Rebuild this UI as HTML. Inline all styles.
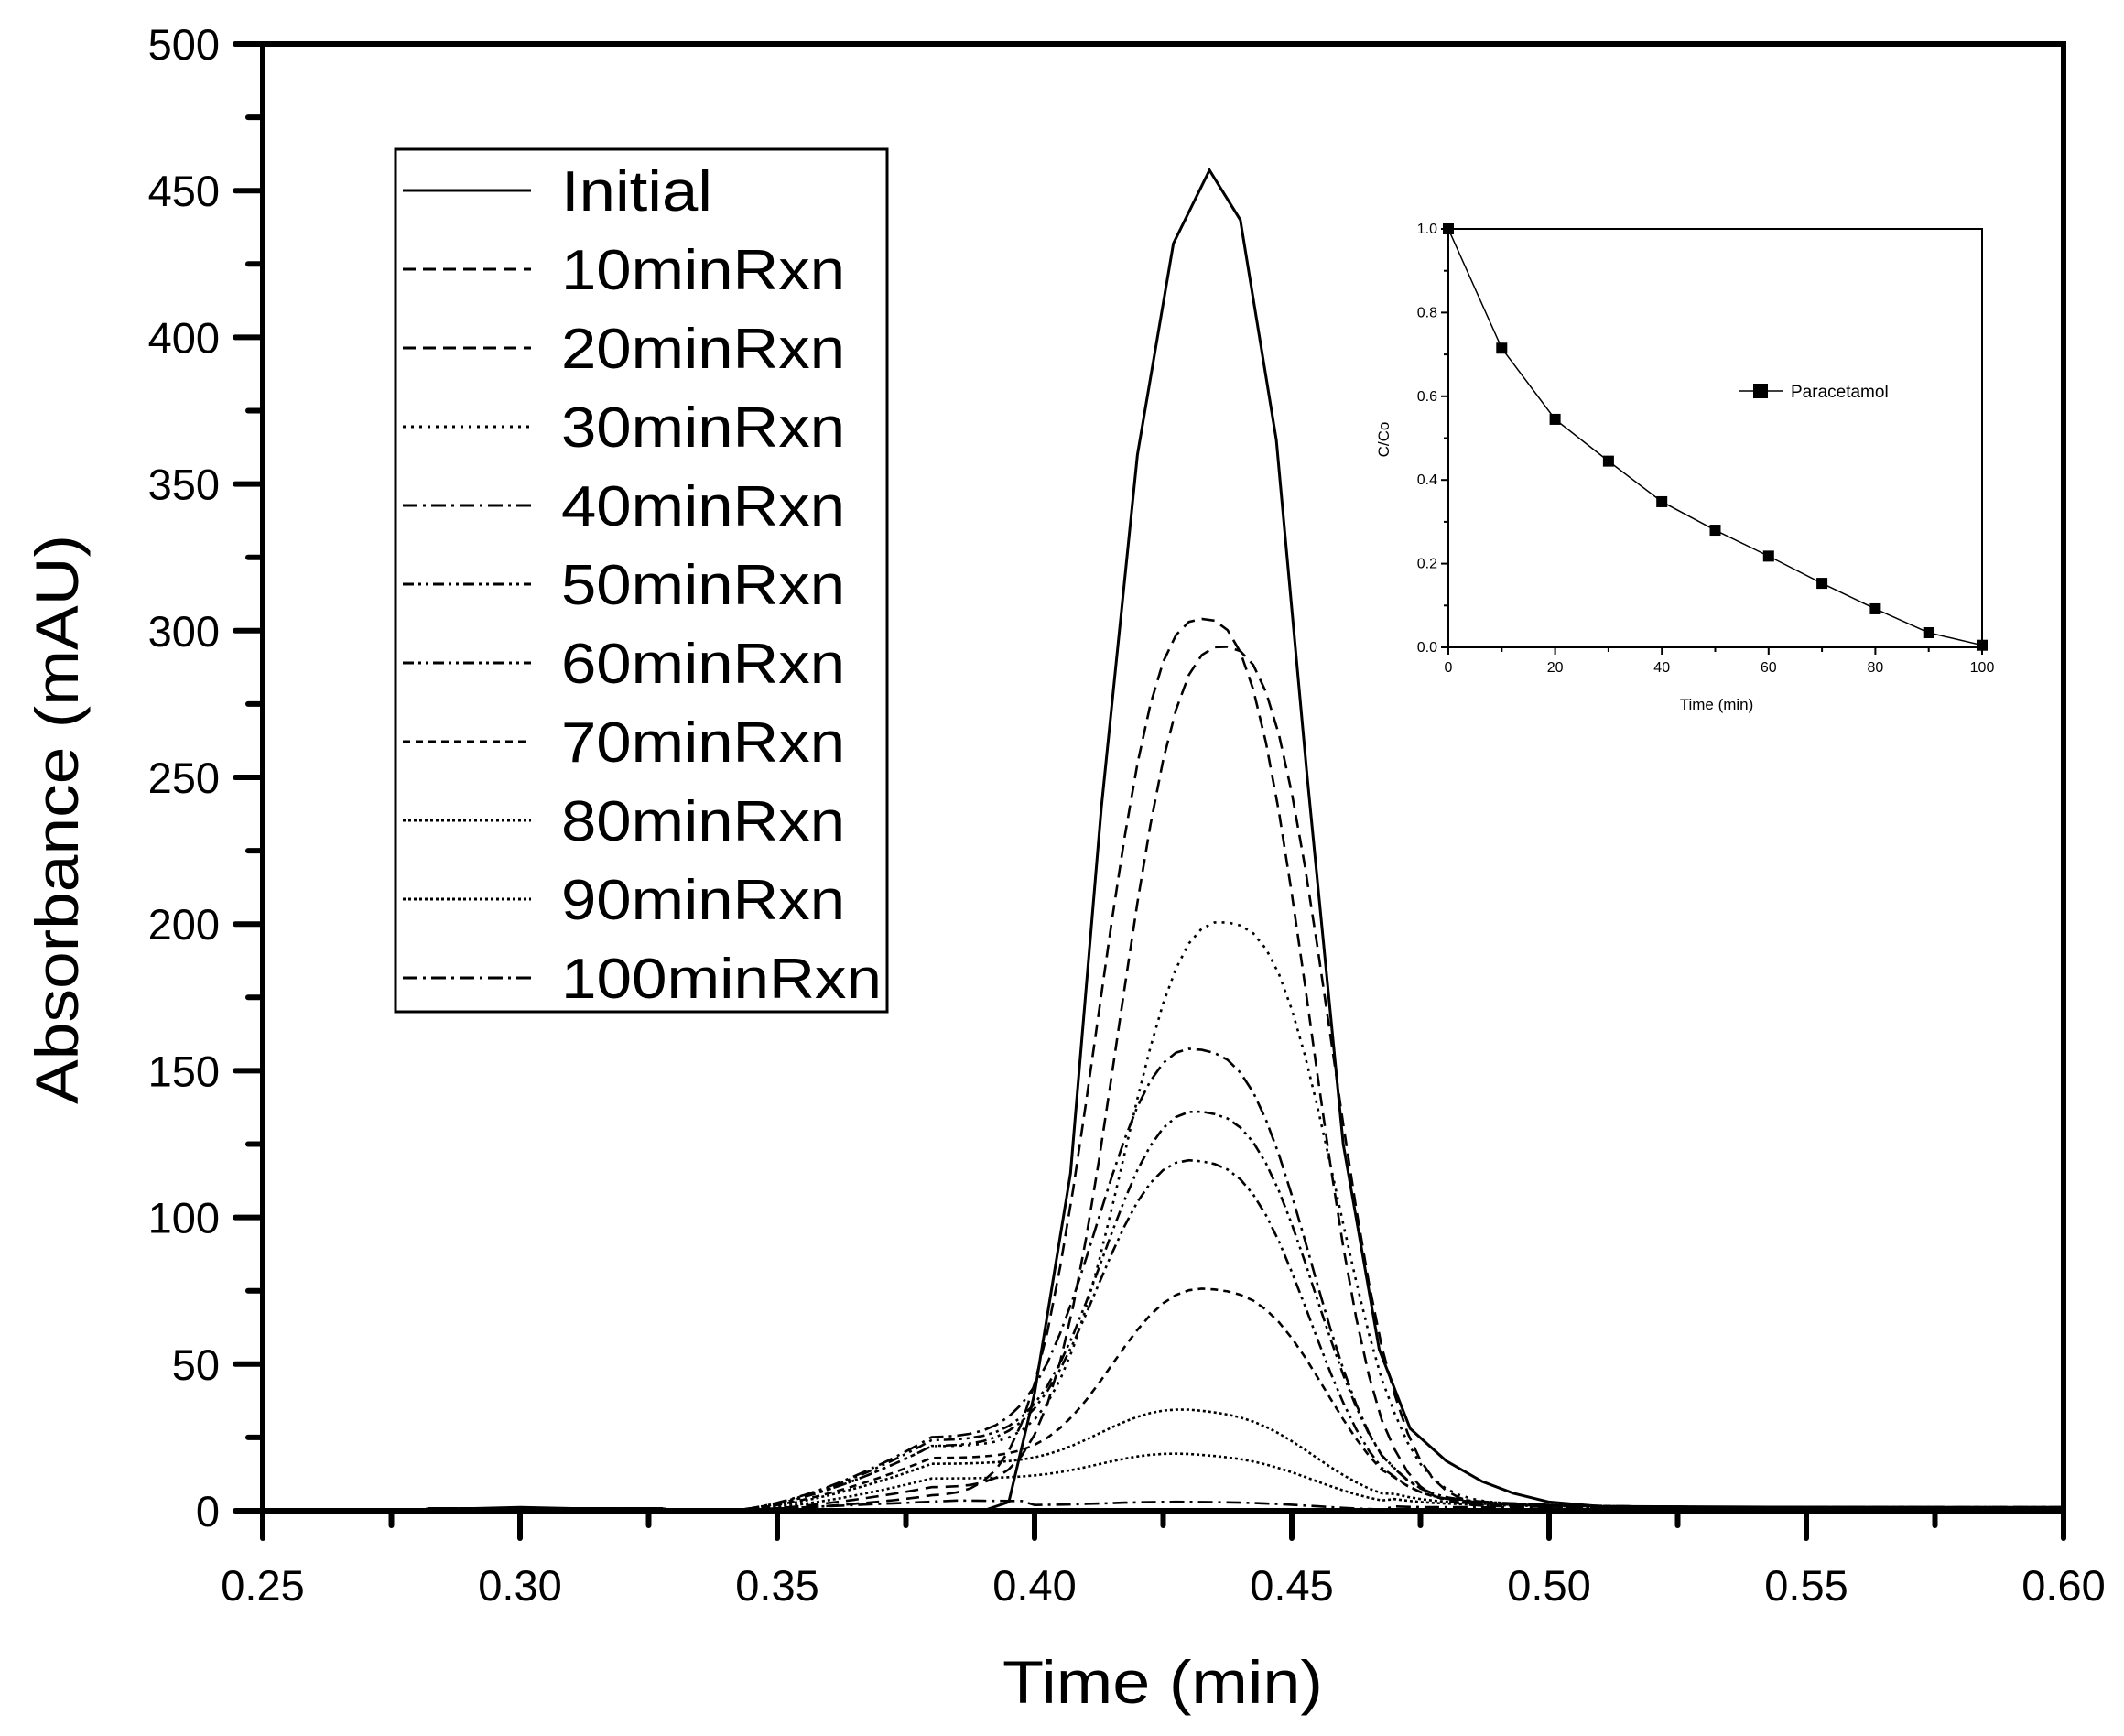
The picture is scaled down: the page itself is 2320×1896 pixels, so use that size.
<!DOCTYPE html>
<html><head><meta charset="utf-8"><style>
html,body{margin:0;padding:0;background:#fff;}
svg{display:block;}
text{font-family:"Liberation Sans",Arial,sans-serif;fill:#000;}
</style></head><body>
<svg id="s" width="2320" height="1896" viewBox="0 0 2320 1896" xmlns="http://www.w3.org/2000/svg">
<g id="curves" fill="none" stroke="#000"></g>
<rect x="287" y="48" width="1967" height="1602" fill="none" stroke="#000" stroke-width="6"/>
<g id="ticks" stroke="#000" stroke-width="6" stroke-linecap="round"></g>
<g id="labels" font-size="47"></g>
<text x="1270" y="1860" font-size="66" text-anchor="middle" textLength="350" lengthAdjust="spacingAndGlyphs">Time (min)</text>
<text transform="translate(85,895) rotate(-90)" font-size="66" text-anchor="middle" textLength="622" lengthAdjust="spacingAndGlyphs">Absorbance (mAU)</text>
<rect x="432" y="163" width="537" height="942" fill="#fff" stroke="#000" stroke-width="3"/>
<g id="legend"></g>
<g id="inset"></g>
</svg>
<script>
const NS="http://www.w3.org/2000/svg";
function el(p,tag,attrs,txt){const e=document.createElementNS(NS,tag);for(const k in attrs)e.setAttribute(k,attrs[k]);if(txt!==undefined)e.textContent=txt;p.appendChild(e);return e;}
const X=t=>287+(t-0.25)*5620, Y=v=>1650-v*3.204;
const ticks=document.getElementById('ticks'),labels=document.getElementById('labels');
for(let i=0;i<=14;i++){const t=0.25+i*0.025,x=X(t),maj=i%2==0;
 el(ticks,'line',{x1:x,y1:1650,x2:x,y2:1650+(maj?30:16)});
 if(maj)el(labels,'text',{x:x,y:1748,'text-anchor':'middle'},t.toFixed(2));}
for(let i=0;i<=20;i++){const v=i*25,y=Y(v),maj=i%2==0;
 el(ticks,'line',{x1:287,y1:y,x2:287-(maj?30:16),y2:y});
 if(maj)el(labels,'text',{x:240,y:y+17,'text-anchor':'end'},String(v));}
const curves=document.getElementById('curves');
const styles={solid:'',dash:'14 8',dot:'3 6',dashdot:'16 6 3 6',dashdotdot:'12 5 3 5 3 5',sdash:'8 6',fdot:'3 3'};
function initialPath(){
 const pts=[[0.25,0],[0.28,0.3],[0.30,1.2],[0.32,0.4],[0.34,0],[0.39,0],[0.395,3],[0.40,40],[0.407,115],[0.413,240],[0.42,360],[0.427,432],[0.434,457],[0.44,440],[0.447,365],[0.453,250],[0.46,125],[0.467,55],[0.473,28],[0.48,17],[0.487,10],[0.493,6],[0.50,3],[0.51,1.5],[0.6,0.8]];
 return 'M'+pts.map(p=>X(p[0]).toFixed(1)+','+Y(p[1]).toFixed(1)).join('L');
}
el(curves,'path',{d:initialPath(),'stroke-width':3});
const defs=[
 [305,0.433,5,'dash'],[296,0.437,8,'dash'],[203,0.438,22,'dot'],[158,0.433,25,'dashdot'],
 [137,0.434,24,'dashdotdot'],[120,0.433,22,'dashdotdot'],[77,0.436,18,'sdash'],[35,0.434,16,'fdot'],
 [20,0.434,11,'fdot'],[2,0.434,3.5,'dashdot']];
for(let [H,c,S,st] of defs){
 if(H>5) H=H-0.6*S-1;
 let d='';
 for(let t=0.25;t<=0.6001;t+=0.0025){
  const dl=Math.abs(t-c);
  let v=H*Math.exp(-Math.pow(dl/0.025,2.6));
  let sh=0;
  if(t>0.34){const a=Math.min(1,(t-0.34)/0.04);sh=S*Math.pow(a,1.6)*(t<0.39?1:Math.exp(-Math.pow((t-0.39)/0.06,2)));}
  if(H<5){sh=S*(t>0.34?Math.min(1,(t-0.34)/0.045):0)*(t<0.385?1:Math.max(0,1-(t-0.385)/0.09)*0.6+0.4*(t<0.4?1:0));}
  v+=sh+(t>0.47?1.2:0);
  if(t>0.28&&t<0.33) v+=0.8;
  d+=(d?'L':'M')+X(t).toFixed(1)+','+Y(v).toFixed(1);
 }
 el(curves,'path',{d:d,'stroke-width':2.6,'stroke-dasharray':styles[st]});
}
const lg=document.getElementById('legend');
const names=['Initial','10minRxn','20minRxn','30minRxn','40minRxn','50minRxn','60minRxn','70minRxn','80minRxn','90minRxn','100minRxn'];
const lst=['solid','dash','dash','dot','dashdot','dashdotdot','dashdotdot','sdash','fdot','fdot','dashdot'];
names.forEach((n,i)=>{const y=208+i*86;
 el(lg,'line',{x1:440,y1:y,x2:580,y2:y,stroke:'#000','stroke-width':3,'stroke-dasharray':styles[lst[i]]});
 el(lg,'text',{x:613,y:y+22,'font-size':62,textLength:(n.length==7?165:(n.length==8?310:350)),lengthAdjust:'spacingAndGlyphs'},n);});
const ins=document.getElementById('inset');
const L=1582,R=2165,T=250,B=707;
const ix=t=>L+(R-L)*t/100, iy=v=>B-(B-T)*v;
el(ins,'rect',{x:L,y:T,width:R-L,height:B-T,fill:'none',stroke:'#000','stroke-width':2});
for(let i=0;i<=10;i++){const x=ix(i*10);el(ins,'line',{x1:x,y1:B,x2:x,y2:B+(i%2?5:8),stroke:'#000','stroke-width':2});
 if(i%2==0)el(ins,'text',{x:x,y:B+27,'font-size':16,'text-anchor':'middle'},String(i*10));}
for(let i=0;i<=10;i++){const y=iy(i/10);el(ins,'line',{x1:L,y1:y,x2:L-(i%2?5:8),y2:y,stroke:'#000','stroke-width':2});
 if(i%2==0)el(ins,'text',{x:L-12,y:y+5,'font-size':16,'text-anchor':'end'},(i/10).toFixed(1));}
el(ins,'text',{x:1875,y:775,'font-size':17,'text-anchor':'middle'},'Time  (min)');
el(ins,'text',{transform:'translate(1517,480) rotate(-90)','font-size':17,'text-anchor':'middle'},'C/Co');
const dat=[1.0,0.715,0.545,0.445,0.348,0.28,0.218,0.153,0.092,0.035,0.005];
el(ins,'path',{d:'M'+dat.map((v,i)=>ix(i*10)+','+iy(v)).join('L'),fill:'none',stroke:'#000','stroke-width':1.5});
dat.forEach((v,i)=>el(ins,'rect',{x:ix(i*10)-6,y:iy(v)-6,width:12,height:12,fill:'#000'}));
el(ins,'line',{x1:1899,y1:427,x2:1948,y2:427,stroke:'#000','stroke-width':1.5});
el(ins,'rect',{x:1915,y:419,width:16,height:16,fill:'#000'});
el(ins,'text',{x:1956,y:434,'font-size':19},'Paracetamol');
</script>
</body></html>
